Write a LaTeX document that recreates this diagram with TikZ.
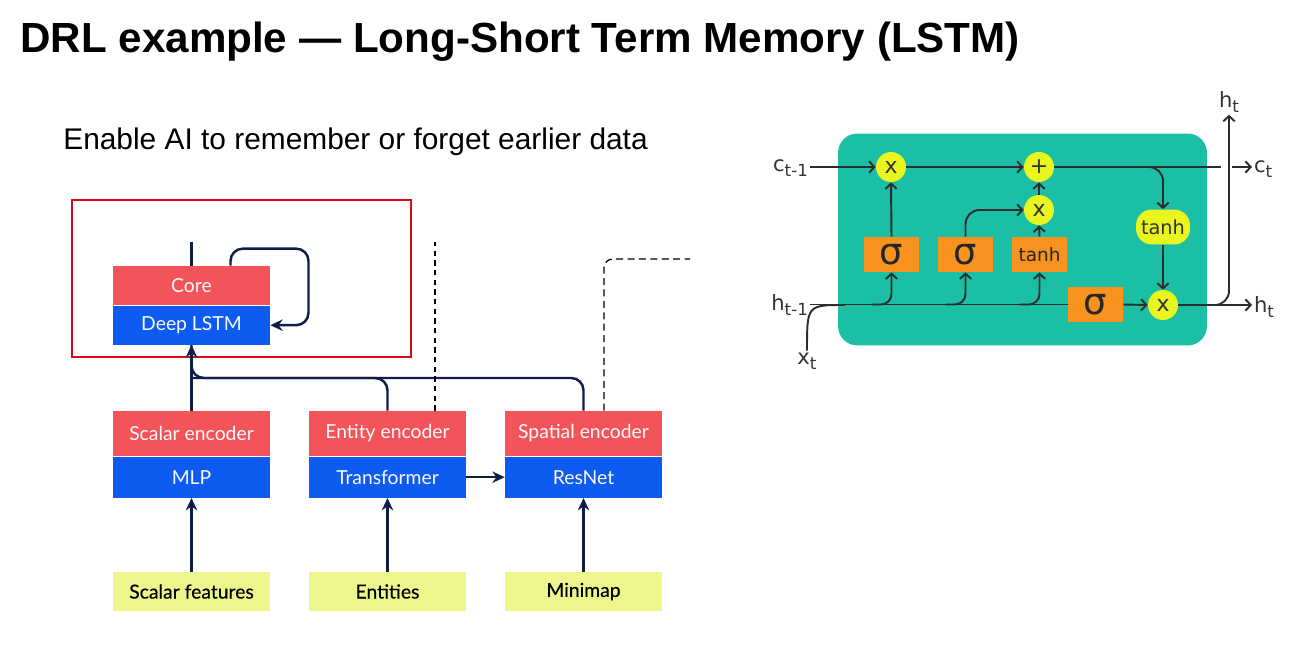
\documentclass[tikz,border=0pt]{standalone}
\usepackage{fontspec}
\setmainfont{Liberation Sans}
\newfontfamily\boxfont{Lato}
\newfontfamily\featfont[FakeBold=0.4]{Lato}
\newfontfamily\cellfont{DejaVu Sans}
\usetikzlibrary{arrows.meta,positioning,calc}
\definecolor{encred}{RGB}{242,84,90}
\definecolor{encblue}{RGB}{13,91,240}
\definecolor{featgreen}{RGB}{236,246,140}
\definecolor{navy}{RGB}{14,30,70}
\definecolor{framered}{RGB}{215,10,25}
\definecolor{cellteal}{RGB}{27,191,166}
\definecolor{gateorange}{RGB}{247,147,30}
\definecolor{opyellow}{RGB}{232,245,30}
\definecolor{cellline}{RGB}{45,45,45}
\newcommand\lsub[1]{\raisebox{-0.45ex}{\fontsize{9.5}{10}\selectfont#1}}

\begin{document}
\begin{tikzpicture}[x=0.02cm,y=-0.02cm,
  redbox/.style={fill=encred,text=white!95!gray,minimum width=3.14cm,inner sep=0pt,font=\boxfont\fontsize{11}{13}\selectfont},
  bluebox/.style={fill=encblue,text=white!95!gray,minimum width=3.14cm,inner sep=0pt,font=\boxfont\fontsize{11}{13}\selectfont},
  featbox/.style={fill=featgreen,text=black,minimum width=3.14cm,minimum height=0.78cm,inner sep=0pt,font=\featfont\fontsize{11}{13}\selectfont},
  link/.style={navy,line width=1.4pt},
  dashlink/.style={black,line width=0.7pt,dash pattern=on 3pt off 2.5pt},
  gate/.style={fill=gateorange,minimum width=1.1cm,minimum height=0.7cm,inner sep=0pt,text=black!85,font=\cellfont\fontsize{10.5}{12}\selectfont},
  sigma/.style={gate,font=\cellfont\fontsize{21}{22}\selectfont},
  op/.style={circle,fill=opyellow,minimum size=0.6cm,inner sep=0pt,text=black!80,font=\cellfont\fontsize{12.5}{13}\selectfont},
  flow/.style={cellline,line width=1.1pt},
  flowarr/.style={flow,-{Straight Barb[length=3pt,width=6.5pt]}},
  lbl/.style={text=black!80,font=\cellfont\fontsize{12}{14}\selectfont,inner sep=1pt},
  >={Stealth[length=7pt,width=6.5pt]}
]
\fill[white] (0,0) rectangle (1308,645);
\useasboundingbox (0,0) rectangle (1308,645);

\node[anchor=base west,inner sep=0pt,font=\bfseries\fontsize{24}{28}\selectfont] (title) at (20,53) {DRL example — Long-Short Term Memory (LSTM)};
\node[anchor=base west,inner sep=0pt,font=\fontsize{17}{20}\selectfont] (subtitle) at (63,150) {Enable AI to remember or forget earlier data};

% core
\node[draw=framered,line width=1.6pt,minimum width=6.78cm,minimum height=3.14cm,inner sep=0pt] (coreframe) at (241.5,278.5) {};
\node[redbox,minimum height=0.78cm] (core) at (191.5,285.5) {Core};
\node[bluebox,minimum height=0.78cm,below=0pt of core] (lstm) {Deep LSTM};

% encoders
\node[redbox,minimum height=0.9cm] (scalarenc) at (191.5,433.5) {Scalar encoder};
\node[bluebox,minimum height=0.82cm,below=0pt of scalarenc] (mlp) {MLP};
\node[redbox,minimum height=0.9cm] (entityenc) at (387.5,433.5) {Entity encoder};
\node[bluebox,minimum height=0.82cm,below=0pt of entityenc] (transformer) {Transformer};
\node[redbox,minimum height=0.9cm] (spatialenc) at (583.5,433.5) {Spatial encoder};
\node[bluebox,minimum height=0.82cm,below=0pt of spatialenc] (resnet) {ResNet};

% inputs
\node[featbox] (scalarfeat) at (191.5,591.5) {Scalar features};
\node[featbox] (entities) at (387.5,591.5) {Entities};
\node[featbox] (minimap) at (583.5,591.5) {Minimap};

\coordinate (coreout) at (191.5,242);
\coordinate (merge) at (191.5,378);
\coordinate (entityout) at (435,242);
\coordinate (spatialout) at (690,259);

\draw[link] (core.north) -- (coreout);
\draw[link,->,rounded corners=7pt] ($(core.north)+(39,0)$) |- ($(core.north)+(117,-17)$) |- (lstm.east);
\draw[link,->] (scalarenc.north) -- (lstm.south);
\draw[link,rounded corners=7pt] (entityenc.north) |- (merge);
\draw[link,rounded corners=7pt] (spatialenc.north) |- (merge) -- (lstm.south);
\draw[dashlink] (entityenc.north -| entityout) -- (entityout);
\draw[dashlink,dash pattern=on 4pt off 2.5pt,rounded corners=5pt] ($(spatialenc.north)+(20.5,0)$) |- (spatialout);

\draw[link,->] (scalarfeat.north) -- (mlp.south);
\draw[link,->] (entities.north) -- (transformer.south);
\draw[link,->] (minimap.north) -- (resnet.south);
\draw[link,->] (transformer.east) -- (resnet.west);

% lstm cell
\node[fill=cellteal,rounded corners=11pt,minimum width=7.38cm,minimum height=4.24cm,inner sep=0pt] (cell) at (1022.5,239.5) {};

\node[op] (fx) at (891,167) {x};
\node[op] (plus) at (1039,167) {+};
\node[op] (ix) at (1039,210) {x};
\node[op] (ox) at (1163,305) {x};
\node[fill=opyellow,rounded corners=9pt,minimum width=1.08cm,minimum height=0.7cm,inner sep=0pt,text=black!80,font=\cellfont\fontsize{11}{12}\selectfont] (ctanh) at (1163,227) {tanh};

\node[sigma] (fg) at (891.5,254.5) {σ};
\node[sigma] (ig) at (965.5,254.5) {σ};
\node[gate] (cg) at (1039.5,254.5) {tanh};
\node[sigma] (og) at (1095.5,304.5) {σ};

\node[lbl,anchor=east] (cprev) at (810,168) {c\lsub{t-1}};
\node[lbl,anchor=east] (hprev) at (810,305) {h\lsub{t-1}};
\node[lbl] (xin) at (807,361) {x\lsub{t}};
\node[lbl,anchor=west] (cnext) at (1252,169) {c\lsub{t}};
\node[lbl,anchor=west] (hnext) at (1252,307) {h\lsub{t}};
\node[lbl] (hup) at (1229,102) {h\lsub{t}};

\coordinate (cgapa) at (1221,167);
\coordinate (cgapb) at (1232,167);
\coordinate (cbr) at (1145,167);
\coordinate (hbr) at (1205,305);
\coordinate (xjoin) at (845,305);

\draw[flowarr] (cprev.east |- fx) -- (fx);
\draw[flowarr] (fx) -- (plus);
\draw[flow] (plus) -- (cgapa);
\draw[flowarr] (cgapb) -- (cgapb -| cnext.west);
\draw[flowarr,rounded corners=8pt] (cbr) -| (ctanh.north);
\draw[flowarr] (ctanh.south) -- (ox.north);

\draw[flow] (hprev.east |- og) -- (og.west);
\draw[flow] (xin.north) .. controls (xin.north |- xjoin) .. (xjoin);
\draw[flowarr,rounded corners=6pt] ($(fg.south |- og)+(-20,0)$) -| (fg.south);
\draw[flowarr,rounded corners=6pt] ($(ig.south |- og)+(-20,0)$) -| (ig.south);
\draw[flowarr,rounded corners=6pt] ($(cg.south |- og)+(-20,0)$) -| (cg.south);
\draw[flowarr] (fg.north) -- (fx.south);
\draw[flowarr,rounded corners=8pt] (ig.north) |- (ix.west);
\draw[flowarr] (cg.north) -- (ix.south);
\draw[flowarr] (ix.north) -- (plus.south);
\draw[flowarr] (og.east) -- (ox.west);
\draw[flowarr] (ox.east) -- (ox -| hnext.west);
\draw[flowarr,rounded corners=8pt] (hbr) -| (hup.south);
\end{tikzpicture}
\end{document}
